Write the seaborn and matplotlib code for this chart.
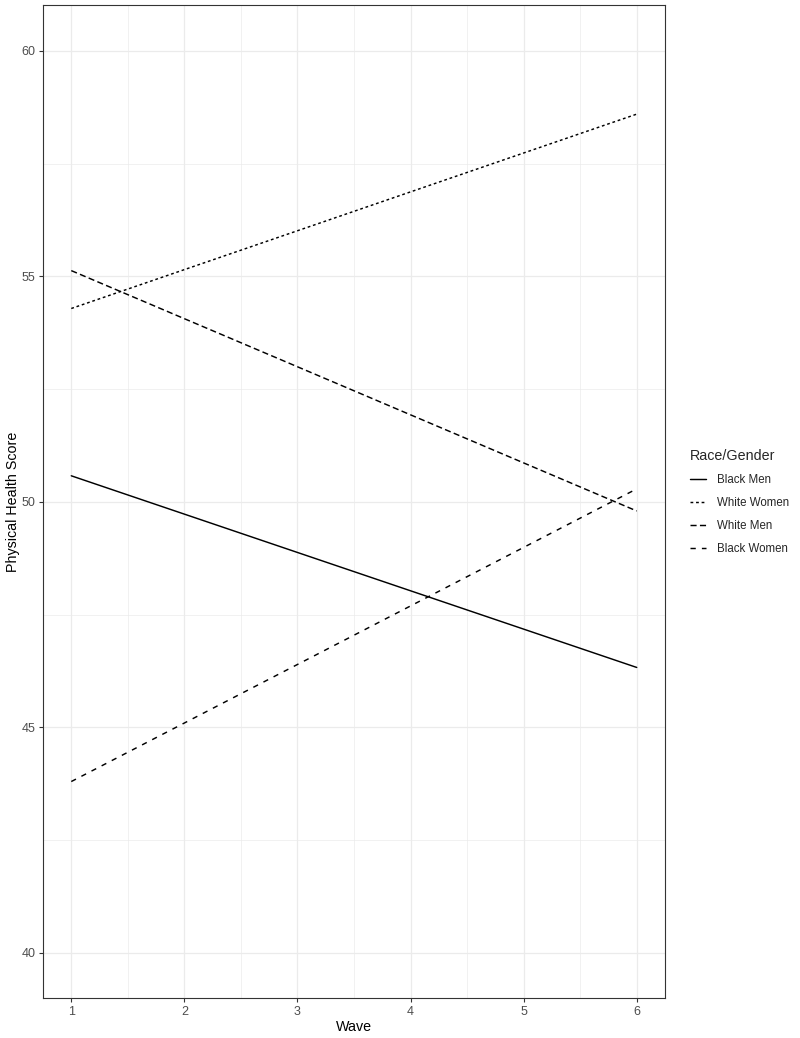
import numpy as np
import pandas as pd
import matplotlib
matplotlib.use("Agg")
import matplotlib.pyplot as plt
from matplotlib.ticker import MultipleLocator
import seaborn as sns

# ---- data ----
waves = [1, 6]
black_men = [50.58, 46.33]
white_women = [54.29, 58.60]
white_men = [55.13, 49.80]
black_women = [43.80, 50.29]
groups = ["Black Men", "White Women", "White Men", "Black Women"]
x_ticks = [1, 2, 3, 4, 5, 6]
y_ticks = [40, 45, 50, 55, 60]

series = {"Black Men": black_men, "White Women": white_women,
          "White Men": white_men, "Black Women": black_women}
rows = []
for g in groups:
    for w, v in zip(waves, series[g]):
        rows.append({"Wave": w, "Score": v, "Race/Gender": g})
df = pd.DataFrame(rows)

sns.set_theme(style="white")
plt.rcParams['font.family'] = ['Liberation Sans', 'DejaVu Sans']
plt.rcParams['lines.scale_dashes'] = False

fig = plt.figure(figsize=(8.0, 10.38), dpi=100)
ax = fig.add_axes([43/800, 1 - 998/1038, (665-43)/800, (998-5)/1038])

dashes = {"Black Men": "", "White Women": (2.0, 2.0),
          "White Men": (4.4, 2.4), "Black Women": (3.8, 4.4)}
sns.lineplot(data=df, x="Wave", y="Score", style="Race/Gender",
             style_order=groups, dashes=dashes, color="black",
             linewidth=1.05, ax=ax, legend=True)

ax.set_xlim(0.75, 6.25)
ax.set_ylim(39.0, 61.02)
ax.set_xticks(x_ticks)
ax.set_yticks(y_ticks)
ax.xaxis.set_minor_locator(MultipleLocator(0.5))
ax.yaxis.set_minor_locator(MultipleLocator(2.5))
ax.grid(True, which="major", color="#EBEBEB", linewidth=0.9)
ax.grid(True, which="minor", color="#EBEBEB", linewidth=0.5)
ax.set_axisbelow(True)
for s in ax.spines.values():
    s.set_color("#333333")
    s.set_linewidth(0.8)
ax.tick_params(axis="both", which="major", length=3, width=0.8, color="#333333",
               labelsize=9, labelcolor="#4D4D4D", pad=2.5, bottom=True, left=True)
ax.tick_params(axis="both", which="minor", length=0)
ax.set_xticklabels([str(t) for t in x_ticks])
ax.set_yticklabels([str(t) for t in y_ticks])
ax.set_xlabel("Wave", fontsize=10.3, color="black", labelpad=2)
ax.set_ylabel("Physical Health Score", fontsize=10.3, color="black", labelpad=1)

handles, labels = ax.get_legend_handles_labels()
ax.legend(handles=handles, labels=labels, title="Race/Gender",
          loc="center left", bbox_to_anchor=(685/800, 1 - 502/1038),
          bbox_transform=fig.transFigure, frameon=False,
          fontsize=8.3, title_fontsize=10.3, handlelength=1.45,
          handletextpad=0.95, labelspacing=0.95, borderaxespad=0)
leg = ax.get_legend()
leg._legend_box.align = "left"
for line in leg.get_lines():
    line.set_linewidth(1.05)

fig.savefig("out.png", dpi=100)
